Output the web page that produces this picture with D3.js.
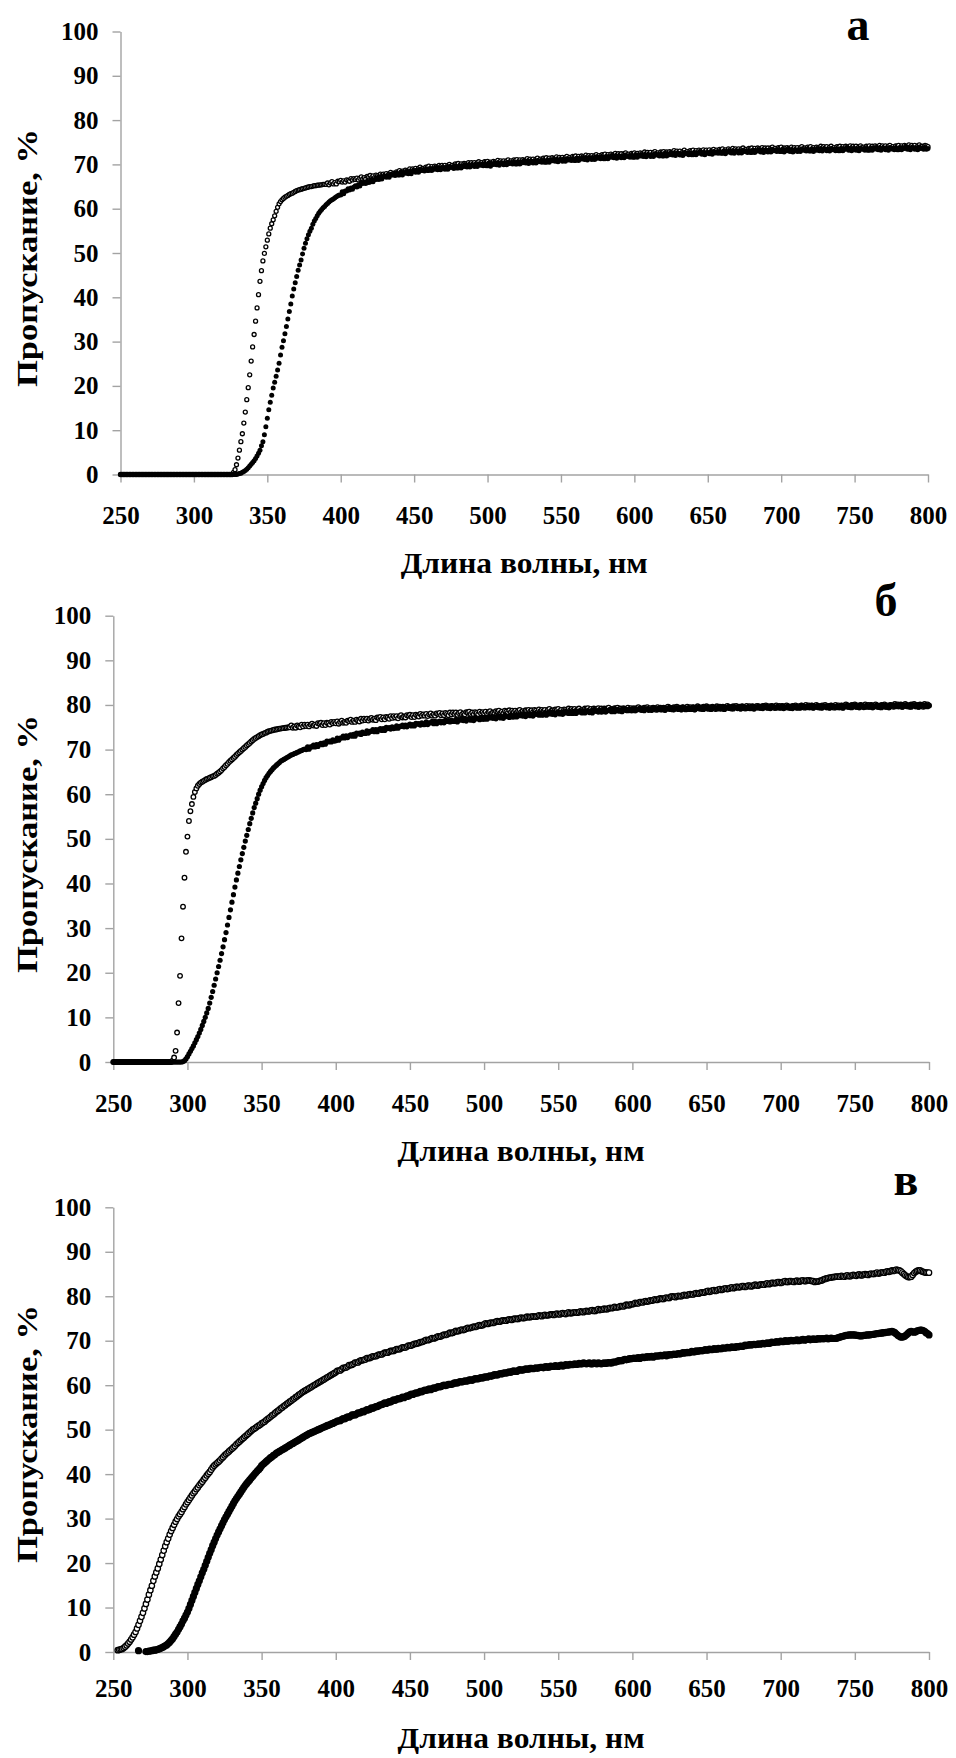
<!DOCTYPE html>
<html>
<head>
<meta charset="utf-8">
<script src="https://cdn.jsdelivr.net/npm/d3@7"></script>
<style>
  body { margin: 0; background: #fff; }
  svg { display: block; }
  text { font-family: "Liberation Serif", "Times New Roman", serif; font-weight: bold; fill: #000; }
</style>
</head>
<body>
<svg id="chart" width="956" height="1758"></svg>
<script>
// Axis ticks and labels
const wavelengthTicks = [250, 300, 350, 400, 450, 500, 550, 600, 650, 700, 750, 800];
const transmissionTicks = [0, 10, 20, 30, 40, 50, 60, 70, 80, 90, 100];
const panelLetters = ["а", "б", "в"];
const xTitle = "Длина волны, нм";
const yTitle = "Пропускание, %";

// Transmission spectra, %. Each row: starting wavelength (nm), then values at 1 nm steps.
const aOpenRows = `
250 0 0 0 0 0 0 0 0 0 0
260 0 0 0 0 0 0 0 0 0 0
270 0 0 0 0 0 0 0 0 0 0
280 0 0 0 0 0 0 0 0 0 0
290 0 0 0 0 0 0 0 0 0 0
300 0 0 0 0 0 0 0 0 0 0
310 0 0 0 0 0 0 0 0 0 0
320 0 0 0 0 0 0 0 0.5 1.1 2.2
330 3.7 5.5 7.4 9.2 11.6 14.1 16.9 19.6 22.5 25.6
340 28.8 31.6 34.6 37.6 40.6 43.6 46.0 48.2 49.9 51.4
350 52.9 54.3 55.6 56.6 57.5 58.4 59.4 60.3 61.1 61.6
360 62.0 62.3 62.6 62.8 63.0 63.2 63.4 63.5 63.7 63.9
370 64.1 64.2 64.3 64.4 64.5 64.6 64.7 64.8 64.9 65.0
380 65.0 65.1 65.2 65.2 65.3 65.3 65.4 65.4 65.5 65.5
390 65.5 65.8 65.4 65.8 66.1 65.6 65.9 65.6 66.2 66.1
400 66.4 66.0 66.3 66.0 66.5 66.4 66.2 66.8 66.5 66.8
410 66.6 66.9 66.5 66.9 67.2 66.7 67.0 66.7 67.3 67.2
420 67.5 67.0 67.4 67.0 67.6 67.4 67.2 67.8 67.5 67.8
430 67.6 67.9 67.5 67.9 68.2 67.7 68.0 67.7 68.3 68.2
440 68.6 68.2 68.5 68.2 68.7 68.6 68.3 69.0 68.6 69.0
450 68.8 69.1 68.7 69.1 69.4 68.9 69.1 68.9 69.4 69.4
460 69.6 69.1 69.5 69.1 69.6 69.5 69.2 69.8 69.5 69.8
470 69.5 69.8 69.4 69.8 70.0 69.6 69.8 69.5 70.1 70.0
480 70.2 69.7 70.1 69.7 70.2 70.1 69.8 70.4 70.1 70.4
490 70.1 70.4 70.0 70.4 70.6 70.1 70.4 70.1 70.6 70.5
500 70.7 70.3 70.5 70.2 70.7 70.5 70.3 70.9 70.5 70.8
510 70.5 70.8 70.4 70.8 71.0 70.5 70.8 70.5 71.0 70.9
520 71.1 70.6 71.0 70.6 71.1 70.9 70.7 71.3 70.9 71.2
530 70.9 71.2 70.8 71.2 71.4 70.9 71.2 70.9 71.4 71.3
540 71.5 71.0 71.4 71.0 71.5 71.3 71.1 71.7 71.3 71.6
550 71.3 71.6 71.2 71.6 71.8 71.3 71.6 71.3 71.8 71.7
560 71.9 71.4 71.8 71.4 71.9 71.7 71.5 72.1 71.7 72.0
570 71.7 72.0 71.6 72.0 72.2 71.7 72.0 71.7 72.2 72.1
580 72.3 71.8 72.2 71.8 72.3 72.1 71.9 72.5 72.1 72.4
590 72.1 72.4 71.9 72.4 72.6 72.1 72.3 72.0 72.5 72.4
600 72.6 72.2 72.5 72.1 72.6 72.4 72.2 72.8 72.4 72.7
610 72.4 72.7 72.2 72.7 72.9 72.4 72.6 72.3 72.8 72.7
620 72.9 72.5 72.8 72.4 72.9 72.7 72.5 73.1 72.7 73.0
630 72.7 73.0 72.5 72.9 73.2 72.7 72.9 72.6 73.1 73.0
640 73.2 72.7 73.1 72.7 73.2 73.0 72.7 73.3 72.9 73.2
650 72.9 73.3 72.8 73.2 73.4 72.9 73.2 72.9 73.4 73.3
660 73.5 73.0 73.3 72.9 73.5 73.3 73.0 73.6 73.2 73.5
670 73.2 73.5 73.1 73.5 73.7 73.2 73.4 73.1 73.6 73.5
680 73.7 73.2 73.6 73.2 73.7 73.5 73.2 73.8 73.4 73.7
690 73.4 73.7 73.3 73.7 73.9 73.4 73.6 73.3 73.8 73.7
700 73.9 73.4 73.7 73.3 73.8 73.6 73.3 73.9 73.5 73.8
710 73.5 73.8 73.3 73.8 74.0 73.5 73.7 73.4 73.9 73.8
720 74.0 73.5 73.8 73.4 73.9 73.8 73.5 74.1 73.7 74.0
730 73.7 74.0 73.5 73.9 74.1 73.6 73.8 73.5 74.0 73.9
740 74.1 73.6 74.0 73.6 74.1 73.9 73.6 74.2 73.8 74.1
750 73.8 74.1 73.6 74.0 74.2 73.7 73.9 73.6 74.1 74.0
760 74.2 73.7 74.1 73.7 74.2 74.0 73.7 74.3 73.9 74.2
770 73.9 74.2 73.7 74.1 74.3 73.8 74.0 73.7 74.2 74.1
780 74.3 73.8 74.2 73.8 74.3 74.1 73.8 74.4 74.0 74.3
790 74.0 74.3 73.8 74.2 74.4 73.9 74.1 73.8 74.3 74.2
800 74.0`;

const aFilledRows = `
250 0 0 0 0 0 0 0 0 0 0
260 0 0 0 0 0 0 0 0 0 0
270 0 0 0 0 0 0 0 0 0 0
280 0 0 0 0 0 0 0 0 0 0
290 0 0 0 0 0 0 0 0 0 0
300 0 0 0 0 0 0 0 0 0 0
310 0 0 0 0 0 0 0 0 0 0
320 0 0 0 0 0 0 0 0 0 0
330 0.1 0.2 0.3 0.5 0.7 0.9 1.2 1.5 1.9 2.3
340 2.7 3.1 3.6 4.2 4.8 5.5 6.5 7.4 9.0 10.8
350 12.7 14.6 16.3 17.9 19.5 20.8 22.2 23.6 25.1 27.0
360 28.7 30.2 31.8 33.4 35.1 36.8 38.5 40.3 41.9 43.3
370 44.7 46.1 47.3 48.4 49.8 51.1 52.2 53.2 54.1 54.9
380 55.6 56.5 57.2 57.8 58.4 59.0 59.4 59.8 60.2 60.5
390 60.9 61.2 61.5 61.8 62.0 62.2 62.5 62.7 62.9 63.1
400 63.1 63.8 63.4 64.0 64.0 64.5 64.2 64.7 64.4 64.9
410 65.2 64.9 65.4 65.1 65.9 65.7 65.9 65.7 66.2 65.9
420 66.0 66.6 66.1 66.6 66.6 67.0 66.6 67.1 66.7 67.2
430 67.4 67.1 67.4 67.1 67.8 67.6 67.7 67.5 68.0 67.6
440 67.6 68.2 67.6 68.1 68.0 68.4 67.9 68.4 67.9 68.4
450 68.6 68.2 68.6 68.2 68.9 68.6 68.7 68.5 68.9 68.6
460 68.6 69.1 68.6 69.0 68.9 69.3 68.8 69.2 68.8 69.2
470 69.3 68.9 69.3 68.9 69.5 69.3 69.4 69.1 69.6 69.2
480 69.2 69.7 69.2 69.6 69.5 69.9 69.4 69.8 69.4 69.8
490 69.9 69.5 69.9 69.5 70.1 69.8 70.0 69.7 70.1 69.7
500 69.7 70.3 69.6 70.1 70.0 70.3 69.9 70.3 69.8 70.2
510 70.3 69.9 70.3 69.9 70.5 70.2 70.4 70.1 70.5 70.1
520 70.1 70.6 70.1 70.5 70.4 70.7 70.3 70.7 70.2 70.6
530 70.7 70.3 70.7 70.3 70.9 70.6 70.8 70.5 70.9 70.5
540 70.5 71.0 70.5 70.9 70.8 71.1 70.7 71.1 70.6 71.0
550 71.1 70.7 71.1 70.7 71.3 71.0 71.2 70.9 71.3 70.9
560 70.9 71.4 70.9 71.3 71.2 71.5 71.1 71.5 71.0 71.4
570 71.5 71.1 71.5 71.1 71.7 71.4 71.6 71.3 71.7 71.3
580 71.3 71.8 71.3 71.7 71.6 71.9 71.5 71.9 71.4 71.8
590 71.9 71.5 71.8 71.5 72.1 71.8 71.9 71.6 72.0 71.6
600 71.6 72.2 71.6 72.0 71.9 72.2 71.8 72.2 71.7 72.1
610 72.2 71.8 72.1 71.8 72.4 72.1 72.2 71.9 72.3 71.9
620 71.9 72.5 71.9 72.3 72.2 72.5 72.1 72.5 72.0 72.4
630 72.5 72.1 72.4 72.0 72.7 72.4 72.5 72.2 72.6 72.2
640 72.2 72.7 72.2 72.6 72.5 72.8 72.3 72.7 72.2 72.6
650 72.7 72.4 72.7 72.3 72.9 72.6 72.8 72.5 72.9 72.5
660 72.5 73.0 72.4 72.8 72.8 73.1 72.6 73.0 72.5 72.9
670 73.0 72.6 73.0 72.6 73.2 72.9 73.0 72.7 73.1 72.7
680 72.7 73.2 72.7 73.1 73.0 73.3 72.8 73.2 72.7 73.1
690 73.2 72.8 73.2 72.8 73.4 73.1 73.2 72.9 73.3 72.9
700 72.9 73.4 72.8 73.2 73.1 73.4 72.9 73.3 72.8 73.2
710 73.3 72.9 73.2 72.9 73.5 73.2 73.3 73.0 73.4 73.0
720 73.0 73.5 72.9 73.3 73.2 73.6 73.1 73.5 73.0 73.4
730 73.5 73.1 73.4 73.0 73.6 73.3 73.4 73.1 73.5 73.1
740 73.1 73.6 73.1 73.5 73.4 73.7 73.2 73.6 73.1 73.5
750 73.6 73.2 73.5 73.1 73.7 73.4 73.5 73.2 73.6 73.2
760 73.2 73.7 73.2 73.6 73.5 73.8 73.3 73.7 73.2 73.6
770 73.7 73.3 73.6 73.2 73.8 73.5 73.6 73.3 73.7 73.3
780 73.3 73.8 73.3 73.7 73.6 73.9 73.4 73.8 73.3 73.7
790 73.8 73.4 73.7 73.3 73.9 73.6 73.7 73.4 73.8 73.4
800 73.6`;

const bOpenRows = `
250 0 0 0 0 0 0 0 0 0 0
260 0 0 0 0 0 0 0 0 0 0
270 0 0 0 0 0 0 0 0 0 0
280 0 0 0 0 0 0 0 0 0 0
290 0.3 1.0 2.5 6.6 13.2 19.3 27.7 34.8 41.3 47.1
300 50.5 54.0 56.2 57.8 59.4 60.5 61.3 61.9 62.3 62.6
310 62.8 63.0 63.2 63.4 63.5 63.7 63.8 64.0 64.1 64.3
320 64.6 64.8 65.1 65.4 65.8 66.1 66.5 66.8 67.2 67.5
330 67.8 68.1 68.4 68.8 69.1 69.4 69.7 70.0 70.3 70.6
340 70.9 71.2 71.5 71.8 72.1 72.4 72.6 72.8 73.0 73.2
350 73.4 73.5 73.7 73.8 74.0 74.1 74.2 74.3 74.4 74.5
360 74.5 74.6 74.7 74.7 74.8 74.8 74.9 74.9 75.0 75.0
370 75.4 74.9 75.2 74.9 75.4 75.2 75.0 75.6 75.2 75.6
380 75.3 75.6 75.2 75.6 75.8 75.4 75.6 75.3 75.9 75.8
390 76.0 75.5 75.9 75.5 76.0 75.9 75.6 76.2 75.9 76.2
400 75.9 76.3 75.8 76.2 76.5 76.0 76.2 76.0 76.5 76.4
410 76.7 76.2 76.5 76.2 76.7 76.5 76.3 76.9 76.5 76.9
420 76.6 76.9 76.5 76.9 77.1 76.7 76.9 76.6 77.2 77.1
430 77.3 76.8 77.2 76.8 77.3 77.2 76.9 77.5 77.1 77.5
440 77.2 77.5 77.0 77.5 77.7 77.2 77.4 77.2 77.7 77.6
450 77.8 77.3 77.7 77.3 77.8 77.6 77.4 78.0 77.6 77.9
460 77.6 78.0 77.5 77.9 78.1 77.6 77.9 77.6 78.1 78.0
470 78.2 77.7 78.1 77.7 78.2 78.0 77.7 78.3 77.9 78.3
480 78.0 78.3 77.8 78.2 78.4 77.9 78.1 77.9 78.4 78.3
490 78.5 78.0 78.3 77.9 78.4 78.2 77.9 78.5 78.1 78.4
500 78.1 78.5 78.0 78.4 78.6 78.1 78.3 78.1 78.6 78.5
510 78.7 78.2 78.5 78.1 78.7 78.5 78.2 78.8 78.4 78.7
520 78.4 78.7 78.3 78.7 78.9 78.4 78.6 78.3 78.8 78.7
530 78.9 78.5 78.8 78.4 78.9 78.7 78.4 79.0 78.6 78.9
540 78.6 78.9 78.4 78.9 79.1 78.6 78.8 78.5 79.0 78.9
550 79.1 78.6 78.9 78.5 79.0 78.9 78.6 79.2 78.8 79.1
560 78.8 79.1 78.6 79.0 79.2 78.7 78.9 78.7 79.2 79.1
570 79.3 78.8 79.1 78.7 79.2 79.0 78.7 79.3 78.9 79.2
580 78.9 79.2 78.7 79.2 79.4 78.9 79.1 78.8 79.3 79.2
590 79.4 78.9 79.2 78.8 79.3 79.1 78.8 79.4 79.0 79.3
600 79.0 79.3 78.8 79.3 79.5 79.0 79.2 78.9 79.4 79.3
610 79.5 79.0 79.3 78.9 79.4 79.2 78.9 79.5 79.1 79.4
620 79.1 79.4 78.9 79.4 79.6 79.1 79.3 79.0 79.5 79.4
630 79.6 79.1 79.4 79.0 79.5 79.3 79.0 79.6 79.2 79.5
640 79.2 79.5 79.0 79.4 79.7 79.2 79.4 79.1 79.6 79.5
650 79.7 79.2 79.5 79.1 79.6 79.4 79.1 79.7 79.3 79.6
660 79.3 79.6 79.1 79.5 79.8 79.3 79.5 79.2 79.7 79.6
670 79.8 79.3 79.6 79.2 79.7 79.5 79.2 79.8 79.4 79.7
680 79.4 79.7 79.2 79.6 79.8 79.4 79.6 79.3 79.8 79.7
690 79.9 79.4 79.7 79.3 79.8 79.6 79.3 79.9 79.5 79.8
700 79.5 79.8 79.3 79.7 79.9 79.4 79.6 79.3 79.8 79.7
710 79.9 79.4 79.7 79.4 79.9 79.7 79.4 80.0 79.6 79.9
720 79.6 79.9 79.4 79.8 80.0 79.5 79.7 79.4 79.9 79.8
730 80.0 79.5 79.8 79.4 79.9 79.7 79.4 80.0 79.6 79.9
740 79.6 79.9 79.4 79.9 80.1 79.6 79.8 79.5 80.0 79.9
750 80.1 79.6 79.9 79.5 80.0 79.8 79.5 80.1 79.7 80.0
760 79.7 80.0 79.5 79.9 80.1 79.6 79.8 79.5 80.0 79.9
770 80.1 79.6 79.9 79.5 80.0 79.9 79.6 80.2 79.8 80.1
780 79.8 80.1 79.6 80.0 80.2 79.7 79.9 79.6 80.1 80.0
790 80.2 79.7 80.0 79.6 80.1 79.9 79.6 80.2 79.8 80.1
800 79.9`;

const bFilledRows = `
250 0 0 0 0 0 0 0 0 0 0
260 0 0 0 0 0 0 0 0 0 0
270 0 0 0 0 0 0 0 0 0 0
280 0 0 0 0 0 0 0 0 0 0
290 0 0 0 0 0 0 0 0.1 0.3 0.7
300 1.2 1.8 2.4 3.0 3.6 4.3 5.0 5.7 6.5 7.3
310 8.2 9.1 10.0 11.0 12.0 13.2 14.5 15.8 17.2 18.6
320 20.0 21.4 22.8 24.3 25.8 27.4 29.0 30.7 32.4 34.1
330 35.8 37.5 39.2 40.8 42.3 43.8 45.3 46.7 48.1 49.5
340 50.8 52.1 53.4 54.6 55.8 57.0 58.0 59.0 60.0 60.9
350 61.7 62.4 63.1 63.7 64.2 64.7 65.1 65.5 65.9 66.2
360 66.5 66.8 67.1 67.4 67.6 67.8 68.0 68.2 68.4 68.6
370 68.8 68.9 69.1 69.2 69.4 69.5 69.7 69.8 70.0 70.1
380 70.0 70.6 70.1 70.6 70.6 71.0 70.6 71.1 70.7 71.2
390 71.4 71.1 71.5 71.2 71.9 71.7 71.9 71.7 72.2 71.9
400 72.0 72.6 72.1 72.6 72.6 73.0 72.6 73.1 72.7 73.1
410 73.3 73.0 73.4 73.0 73.7 73.5 73.7 73.4 73.9 73.6
420 73.6 74.2 73.7 74.1 74.1 74.5 74.0 74.5 74.0 74.5
430 74.7 74.3 74.7 74.3 75.0 74.7 74.9 74.6 75.1 74.7
440 74.8 75.3 74.8 75.2 75.2 75.5 75.1 75.5 75.1 75.5
450 75.7 75.3 75.6 75.3 75.9 75.7 75.8 75.5 76.0 75.6
460 75.6 76.2 75.6 76.0 76.0 76.3 75.8 76.3 75.8 76.2
470 76.4 76.0 76.3 76.0 76.6 76.3 76.5 76.2 76.6 76.3
480 76.3 76.8 76.2 76.7 76.6 76.9 76.5 76.9 76.4 76.8
490 77.0 76.6 76.9 76.5 77.2 76.9 77.0 76.7 77.2 76.8
500 76.8 77.3 76.8 77.2 77.1 77.4 77.0 77.4 76.9 77.3
510 77.5 77.1 77.4 77.0 77.7 77.4 77.5 77.2 77.7 77.3
520 77.3 77.8 77.3 77.7 77.6 77.9 77.5 77.9 77.4 77.8
530 78.0 77.6 77.9 77.5 78.1 77.9 78.0 77.7 78.1 77.7
540 77.8 78.3 77.7 78.1 78.0 78.4 77.9 78.3 77.8 78.2
550 78.4 78.0 78.3 77.9 78.5 78.2 78.4 78.1 78.5 78.1
560 78.1 78.6 78.1 78.5 78.4 78.7 78.2 78.6 78.2 78.6
570 78.7 78.3 78.6 78.2 78.9 78.6 78.7 78.4 78.8 78.4
580 78.5 79.0 78.4 78.8 78.7 79.0 78.5 79.0 78.5 78.9
590 79.0 78.6 78.9 78.5 79.2 78.9 79.0 78.7 79.1 78.7
600 78.7 79.2 78.7 79.1 79.0 79.3 78.8 79.2 78.7 79.1
610 79.2 78.8 79.1 78.8 79.4 79.1 79.2 78.9 79.3 78.9
620 78.9 79.4 78.8 79.2 79.2 79.5 79.0 79.4 78.9 79.3
630 79.4 79.0 79.3 78.9 79.5 79.2 79.3 79.0 79.4 79.0
640 79.0 79.5 78.9 79.4 79.3 79.6 79.1 79.5 79.0 79.4
650 79.5 79.1 79.4 79.0 79.6 79.3 79.4 79.1 79.5 79.1
660 79.1 79.6 79.0 79.4 79.4 79.7 79.2 79.6 79.1 79.5
670 79.6 79.2 79.5 79.1 79.7 79.4 79.5 79.2 79.6 79.2
680 79.2 79.7 79.1 79.5 79.4 79.8 79.3 79.7 79.2 79.6
690 79.7 79.3 79.6 79.2 79.8 79.5 79.6 79.3 79.7 79.3
700 79.3 79.8 79.2 79.6 79.5 79.8 79.3 79.7 79.2 79.6
710 79.7 79.3 79.6 79.3 79.9 79.6 79.7 79.4 79.8 79.4
720 79.4 79.9 79.3 79.7 79.6 79.9 79.4 79.8 79.3 79.7
730 79.8 79.4 79.7 79.3 79.9 79.6 79.7 79.4 79.8 79.4
740 79.4 79.9 79.3 79.8 79.7 80.0 79.5 79.9 79.4 79.8
750 79.9 79.5 79.8 79.4 80.0 79.7 79.8 79.5 79.9 79.5
760 79.5 80.0 79.4 79.8 79.7 80.0 79.5 79.9 79.4 79.8
770 79.9 79.5 79.8 79.4 80.0 79.8 79.9 79.6 80.0 79.6
780 79.6 80.1 79.5 79.9 79.8 80.1 79.6 80.0 79.5 79.9
790 80.0 79.6 79.9 79.5 80.1 79.8 79.9 79.6 80.0 79.6
800 79.8`;

const cOpenRows = `
253 0.4 0.5 0.6 0.7 0.9 1.2 1.5
260 1.9 2.3 2.8 3.3 3.9 4.5 5.3 6.1 7.0 7.9
270 8.8 9.8 10.8 11.8 12.9 13.9 14.9 16.0 17.0 17.9
280 18.8 19.8 20.8 21.8 22.8 23.8 24.7 25.5 26.4 27.2
290 27.9 28.6 29.3 29.9 30.5 31.0 31.5 32.1 32.6 33.2
300 33.7 34.2 34.7 35.2 35.7 36.1 36.6 37.0 37.5 37.9
310 38.3 38.8 39.2 39.7 40.1 40.5 41.0 41.5 41.9 42.2
320 42.5 42.8 43.1 43.5 43.8 44.2 44.5 44.8 45.1 45.4
330 45.7 46.0 46.3 46.7 47.0 47.3 47.6 47.9 48.2 48.5
340 48.8 49.1 49.4 49.7 50.0 50.2 50.4 50.7 50.9 51.1
350 51.4 51.6 51.8 52.1 52.4 52.6 52.9 53.2 53.4 53.7
360 54.0 54.2 54.5 54.8 55.0 55.3 55.5 55.8 56.0 56.3
370 56.5 56.8 57.0 57.3 57.5 57.8 58.0 58.3 58.5 58.7
380 58.9 59.1 59.3 59.5 59.7 59.9 60.1 60.3 60.5 60.7
390 60.9 61.1 61.3 61.5 61.7 61.9 62.1 62.3 62.5 62.7
400 62.9 63.2 63.3 63.3 63.6 63.9 63.9 64.0 64.2 64.5
410 64.5 64.6 64.8 65.1 65.1 65.1 65.4 65.6 65.6 65.7
420 65.8 66.1 66.1 66.1 66.3 66.5 66.5 66.5 66.7 66.9
430 66.9 66.9 67.1 67.3 67.3 67.3 67.5 67.7 67.7 67.7
440 67.9 68.1 68.1 68.1 68.3 68.5 68.5 68.5 68.7 68.9
450 68.9 68.9 69.1 69.3 69.3 69.4 69.5 69.7 69.7 69.8
460 70.0 70.2 70.1 70.2 70.4 70.6 70.5 70.6 70.8 71.0
470 70.9 71.0 71.2 71.4 71.3 71.4 71.6 71.8 71.7 71.8
480 72.0 72.2 72.1 72.2 72.4 72.5 72.4 72.5 72.7 72.9
490 72.8 72.9 73.0 73.2 73.1 73.2 73.4 73.5 73.4 73.5
500 73.7 73.9 73.8 73.8 74.0 74.1 74.0 74.1 74.3 74.4
510 74.3 74.3 74.5 74.6 74.5 74.5 74.7 74.8 74.7 74.7
520 74.9 75.0 74.9 74.9 75.1 75.2 75.1 75.1 75.2 75.4
530 75.3 75.3 75.4 75.5 75.4 75.4 75.5 75.7 75.6 75.5
540 75.7 75.8 75.7 75.7 75.8 75.9 75.9 75.8 75.9 76.1
550 76.0 75.9 76.1 76.2 76.1 76.0 76.2 76.4 76.2 76.2
560 76.3 76.4 76.4 76.3 76.4 76.6 76.5 76.4 76.6 76.7
570 76.6 76.6 76.8 76.9 76.7 76.7 76.9 77.1 76.9 77.0
580 77.0 77.2 77.1 77.1 77.3 77.4 77.3 77.4 77.6 77.5
590 77.5 77.6 77.8 77.8 77.7 77.9 78.1 78.0 78.0 78.2
600 78.2 78.3 78.5 78.4 78.4 78.7 78.7 78.6 78.8 78.9
610 78.8 78.9 79.1 79.0 79.1 79.3 79.2 79.2 79.4 79.5
620 79.4 79.4 79.6 79.7 79.6 79.6 79.9 80.0 79.9 79.8
630 80.0 80.1 80.0 80.0 80.2 80.3 80.2 80.2 80.4 80.5
640 80.4 80.4 80.6 80.7 80.6 80.6 80.8 80.9 80.8 80.9
650 81.1 81.2 81.0 81.1 81.3 81.4 81.2 81.3 81.5 81.6
660 81.4 81.5 81.7 81.8 81.6 81.7 81.9 82.0 81.8 81.9
670 82.1 82.1 82.0 82.1 82.3 82.3 82.1 82.2 82.4 82.4
680 82.2 82.3 82.5 82.6 82.4 82.4 82.6 82.7 82.6 82.6
690 82.8 82.9 82.7 82.8 83.0 83.0 82.9 83.0 83.2 83.2
700 83.0 83.1 83.3 83.4 83.2 83.2 83.4 83.4 83.3 83.2
710 83.4 83.5 83.3 83.3 83.5 83.6 83.4 83.4 83.6 83.6
720 83.5 83.4 83.4 83.2 83.3 83.3 83.4 83.5 83.6 83.8
730 83.9 84.0 84.1 84.2 84.2 84.3 84.3 84.4 84.4 84.4
740 84.4 84.6 84.5 84.4 84.6 84.7 84.5 84.5 84.7 84.8
750 84.7 84.6 84.8 84.9 84.7 84.7 84.9 85.0 84.9 84.8
760 85.0 85.1 85.0 85.0 85.2 85.3 85.1 85.2 85.4 85.4
770 85.3 85.5 85.6 85.5 85.6 85.8 85.7 85.8 86.0 85.9
780 85.8 85.6 85.3 85.0 84.7 84.5 84.3 84.3 84.4 84.8
790 85.2 85.5 85.7 85.8 85.8 85.6 85.5 85.4 85.3 85.3
800 85.3`;

const cFilledRows = `
267 0.3
272 0.1 0.1 0.2 0.2 0.3 0.4 0.4 0.5
280 0.6 0.7 0.9 1.0 1.2 1.4 1.6 1.9 2.2 2.6
290 3.0 3.5 4.0 4.5 5.1 5.7 6.3 7.0 7.6 8.3
300 9.0 9.8 10.7 11.6 12.5 13.4 14.3 15.2 16.0 16.9
310 17.8 18.6 19.5 20.4 21.3 22.2 23.0 23.9 24.7 25.5
320 26.3 27.0 27.7 28.4 29.1 29.8 30.4 31.0 31.6 32.2
330 32.8 33.4 34.0 34.5 35.0 35.5 36.0 36.5 37.0 37.5
340 37.9 38.3 38.7 39.1 39.5 39.9 40.3 40.7 41.0 41.4
350 41.9 42.2 42.5 42.8 43.1 43.4 43.7 43.9 44.2 44.4
360 44.7 44.9 45.1 45.3 45.5 45.7 45.9 46.1 46.3 46.5
370 46.7 46.9 47.1 47.3 47.5 47.7 47.9 48.1 48.3 48.5
380 48.7 48.9 49.1 49.2 49.4 49.5 49.7 49.8 50.0 50.1
390 50.3 50.4 50.6 50.7 50.9 51.0 51.1 51.3 51.4 51.6
400 51.7 51.9 52.0 52.0 52.3 52.5 52.4 52.7 52.9 52.8
410 53.0 53.3 53.3 53.3 53.5 53.8 53.7 53.9 54.1 54.0
420 54.3 54.5 54.4 54.6 54.9 54.8 55.0 55.2 55.2 55.4
430 55.6 55.6 55.8 56.0 55.9 56.1 56.3 56.2 56.5 56.7
440 56.6 56.8 57.0 56.9 57.1 57.3 57.2 57.4 57.6 57.5
450 57.8 58.0 57.9 58.1 58.3 58.2 58.4 58.6 58.5 58.7
460 58.9 58.8 59.0 59.2 59.0 59.2 59.4 59.3 59.5 59.7
470 59.6 59.7 59.9 60.0 59.9 60.0 60.2 60.2 60.2 60.3
480 60.5 60.5 60.5 60.7 60.8 60.7 60.8 61.0 60.9 61.0
490 61.2 61.2 61.1 61.3 61.5 61.4 61.4 61.6 61.7 61.6
500 61.8 61.9 61.8 62.0 62.1 62.0 62.2 62.4 62.3 62.3
510 62.5 62.6 62.5 62.7 62.8 62.7 62.9 63.0 62.9 63.1
520 63.2 63.1 63.1 63.3 63.5 63.4 63.4 63.5 63.7 63.6
530 63.6 63.8 63.8 63.7 63.8 63.9 63.8 63.9 64.0 64.0
540 63.9 64.1 64.2 64.0 64.1 64.3 64.2 64.2 64.4 64.3
550 64.2 64.4 64.5 64.3 64.4 64.6 64.5 64.5 64.7 64.6
560 64.6 64.8 64.7 64.7 64.9 64.8 64.8 65.0 64.9 64.8
570 64.9 65.0 64.8 64.8 65.0 64.9 64.8 65.0 64.9 64.8
580 64.9 65.0 64.9 65.0 65.1 65.0 65.0 65.2 65.2 65.2
590 65.4 65.5 65.5 65.5 65.7 65.8 65.7 65.8 66.0 65.9
600 66.0 66.1 66.0 66.1 66.2 66.0 66.2 66.3 66.2 66.3
610 66.4 66.3 66.4 66.5 66.3 66.5 66.6 66.5 66.6 66.7
620 66.6 66.7 66.8 66.6 66.8 66.9 66.8 66.9 67.0 66.9
630 67.0 67.1 67.0 67.1 67.3 67.2 67.3 67.4 67.3 67.4
640 67.6 67.5 67.5 67.7 67.6 67.7 67.8 67.7 67.8 68.0
650 67.9 67.9 68.1 68.0 68.0 68.2 68.1 68.1 68.3 68.2
660 68.2 68.4 68.3 68.3 68.5 68.4 68.4 68.6 68.5 68.5
670 68.7 68.6 68.7 68.8 68.7 68.8 69.0 68.9 69.0 69.1
680 69.0 69.1 69.2 69.1 69.2 69.3 69.2 69.3 69.4 69.3
690 69.4 69.5 69.4 69.5 69.7 69.6 69.6 69.8 69.7 69.7
700 69.9 69.8 69.8 70.0 69.9 69.9 70.0 70.1 70.0 70.0
710 70.1 70.2 70.0 70.1 70.2 70.3 70.1 70.2 70.3 70.4
720 70.2 70.3 70.4 70.3 70.3 70.5 70.4 70.4 70.5 70.4
730 70.5 70.6 70.4 70.5 70.6 70.5 70.5 70.5 70.6 70.7
740 70.8 70.9 71.0 71.1 71.2 71.2 71.3 71.3 71.3 71.3
750 71.3 71.2 71.2 71.1 71.1 71.1 71.2 71.2 71.3 71.3
760 71.3 71.4 71.4 71.5 71.5 71.6 71.6 71.7 71.7 71.8
770 71.8 71.9 71.9 72.0 72.0 72.1 72.0 71.8 71.5 71.2
780 71.0 70.8 70.8 70.9 71.1 71.4 71.7 72.0 72.1 72.0
790 71.9 72.0 72.2 72.3 72.4 72.4 72.3 72.1 71.8 71.6
800 71.3`;

// Turn a row table into [wavelength, transmission] points
function readRows(block) {
  const points = [];
  block.trim().split("\n").forEach(line => {
    const nums = line.trim().split(/\s+/).map(Number);
    nums.slice(1).forEach((v, i) => points.push([nums[0] + i, v]));
  });
  return points;
}

// Panel layout (pixel frame of each plot area and its text placement)
const panels = [
  { letter: panelLetters[0], open: readRows(aOpenRows), filled: readRows(aFilledRows),
    xRange: [120.5, 928], yRange: [474.5, 31.5], xPad: 24, xTitleY: 573, yTitleY: 258,
    letterX: 858, letterY: 35, rOpen: 2.0, rFilled: 2.5, openStroke: 1.3 },
  { letter: panelLetters[1], open: readRows(bOpenRows), filled: readRows(bFilledRows),
    xRange: [113.3, 929], yRange: [1062, 615.7], xPad: 24, xTitleY: 1161, yTitleY: 844,
    letterX: 886, letterY: 616, rOpen: 2.3, rFilled: 2.6, openStroke: 1.3 },
  { letter: panelLetters[2], open: readRows(cOpenRows), filled: readRows(cFilledRows),
    xRange: [113.3, 929], yRange: [1652, 1207.3], xPad: 19, xTitleY: 1748, yTitleY: 1434,
    letterX: 906, letterY: 1195, rOpen: 2.7, rFilled: 3.6, openStroke: 1.3 }
];

const svg = d3.select("#chart");
const axisColor = "#a3a3a3";

panels.forEach(p => {
  const x = d3.scaleLinear().domain([250, 800]).range(p.xRange);
  const y = d3.scaleLinear().domain([0, 100]).range(p.yRange);
  const g = svg.append("g");

  // Axes
  const xAxis = g.append("g")
    .attr("transform", `translate(0,${p.yRange[0]})`)
    .call(d3.axisBottom(x).tickValues(wavelengthTicks).tickFormat(d3.format("d"))
      .tickSize(8).tickSizeOuter(0).tickPadding(p.xPad));
  const yAxis = g.append("g")
    .attr("transform", `translate(${p.xRange[0]},0)`)
    .call(d3.axisLeft(y).tickValues(transmissionTicks).tickFormat(d3.format("d"))
      .tickSize(8).tickSizeOuter(0).tickPadding(14));
  [xAxis, yAxis].forEach(a => {
    a.select(".domain").attr("stroke", axisColor).attr("stroke-width", 1.4);
    a.selectAll(".tick line").attr("stroke", axisColor).attr("stroke-width", 1.4);
    a.selectAll(".tick text").attr("fill", "#000")
      .style("font-family", '"Liberation Serif", "Times New Roman", serif')
      .style("font-weight", "bold").style("font-size", "25px");
  });

  // Open-circle series first, filled series on top
  g.append("g").selectAll("circle").data(p.open).join("circle")
    .attr("cx", d => x(d[0])).attr("cy", d => y(d[1]))
    .attr("r", p.rOpen).attr("fill", "#fff").attr("stroke", "#000")
    .attr("stroke-width", p.openStroke);
  g.append("g").selectAll("circle").data(p.filled).join("circle")
    .attr("cx", d => x(d[0])).attr("cy", d => y(d[1]))
    .attr("r", p.rFilled).attr("fill", "#000");

  // Axis titles
  g.append("text")
    .attr("transform", `translate(${(p.xRange[0] + p.xRange[1]) / 2},${p.xTitleY}) scale(1.05,1)`)
    .attr("text-anchor", "middle").style("font-size", "30px").text(xTitle);
  g.append("text").attr("transform", `translate(37,${p.yTitleY}) rotate(-90) scale(1.15,1)`)
    .attr("text-anchor", "middle").style("font-size", "30px").text(yTitle);

  // Panel letter, kept just inside the top edge
  g.append("text").attr("x", p.letterX).attr("y", Math.max(p.letterY, 40))
    .attr("text-anchor", "middle").style("font-size", "46px").text(p.letter);
});
</script>
</body>
</html>
